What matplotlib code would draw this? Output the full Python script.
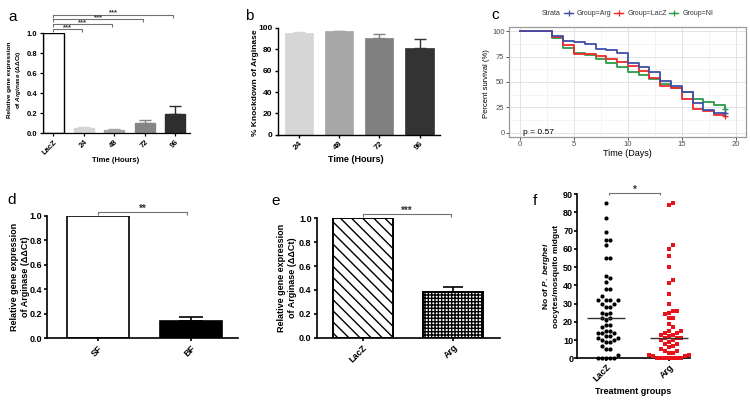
import numpy as np
import matplotlib
matplotlib.use("Agg")
import matplotlib.pyplot as plt
from matplotlib.transforms import Affine2D
from matplotlib.lines import Line2D

plt.rcParams.update({
    "font.family": ["Liberation Sans", "DejaVu Sans"],
    "font.weight": "bold",
    "axes.labelweight": "bold",
    "mathtext.fontset": "custom",
    "mathtext.it": "Liberation Sans:italic:bold",
    "mathtext.rm": "Liberation Sans:bold",
    "mathtext.bf": "Liberation Sans:bold",
    "hatch.linewidth": 1.0,
})

# ---------------- data ----------------
a_labels = ["LacZ", "24", "48", "72", "96"]
a_vals = [1.0, 0.055, 0.035, 0.10, 0.19]
a_errs = [0.0, 0.005, 0.006, 0.03, 0.08]
a_sig = ["***", "***", "***", "***"]

b_labels = ["24", "48", "72", "96"]
b_vals = [95.5, 97.0, 91.0, 81.5]
b_errs = [0.3, 0.2, 3.0, 8.0]

c_days = [0, 3, 4, 5, 6, 7, 8, 9, 10, 11, 12, 13, 14, 15, 16, 17, 18, 19]
c_arg = [100, 95.5, 90.5, 89, 87.5, 83, 82, 78.5, 68.5, 64.5, 60, 51, 46.5, 40.5, 29.5, 22, 19.5, 19.5]
c_lacz = [100, 94, 86, 78, 77.5, 75.5, 72.5, 69.5, 65.5, 61, 53.5, 46.5, 44, 33.5, 23.5, 21.5, 17, 16.5]
c_nl = [100, 93, 83.5, 79, 76.5, 73, 69, 64.5, 60, 57, 52.5, 48.5, 44.5, 40, 33, 30.5, 27.5, 23]
c_groups = ["Group=Arg", "Group=LacZ", "Group=NI"]
c_pval = "p = 0.57"

d_labels = ["SF", "BF"]
d_vals = [1.0, 0.14]
d_errs = [0.0, 0.03]
d_sig = "**"

e_labels = ["LacZ", "Arg"]
e_vals = [1.0, 0.38]
e_errs = [0.0, 0.045]
e_sig = "***"

f_groups = ["LacZ", "Arg"]
f_lacz = [85, 77, 69, 65, 65, 62, 55, 55, 45, 44, 42, 38, 38, 34, 32, 32, 32, 32, 30, 30,
          28, 28, 25, 25, 24, 22, 22, 21, 18, 18, 17, 15, 15, 14, 14, 14, 12, 12, 11, 11,
          10, 10, 9, 9, 7, 5, 5, 2, 0, 0, 0, 0, 0]
f_arg = [85, 84, 62, 60, 56, 50, 43, 41, 35, 30, 26, 26, 25, 24, 22, 22, 19, 17, 15, 15,
         14, 14, 13, 13, 12, 11, 11, 11, 10, 10, 9, 8, 8, 7, 6, 5, 4, 4, 3, 3,
         2, 2, 1, 1, 0, 0, 0, 0, 0, 0, 0]
f_sig = "*"

# ---------------- figure ----------------
W, H = 750, 413
fig = plt.figure(figsize=(7.5, 4.13), dpi=100)
PX = Affine2D().scale(1.0 / W, -1.0 / H).translate(0, 1) + fig.transFigure


def axpx(l, t, r, b):
    return fig.add_axes([l / W, 1 - b / H, (r - l) / W, (b - t) / H])


def prism(ax, fs, lw=1.0, tl=2.2, pad=2.0):
    for s in ["top", "right"]:
        ax.spines[s].set_visible(False)
    for s in ["left", "bottom"]:
        ax.spines[s].set_linewidth(lw)
    ax.tick_params(labelsize=fs, width=lw, length=tl, pad=pad)
    for lab in ax.get_xticklabels() + ax.get_yticklabels():
        lab.set_fontweight("bold")


def errbars(ax, xs, vals, errs, colors, lw, cap):
    for x, v, e, c in zip(xs, vals, errs, colors):
        ax.errorbar([x], [v], yerr=[[0], [e]], fmt="none", ecolor=c,
                    elinewidth=lw, capsize=cap, capthick=lw, zorder=1)


def bracket(ax, x1, x2, y, h, txt, fs, color="#707070"):
    ax.plot([x1, x1, x2, x2], [y - h, y, y, y - h], color=color, lw=0.8,
            clip_on=False, solid_capstyle="butt")
    ax.text((x1 + x2) / 2, y, txt, ha="center", va="baseline", fontsize=fs,
            color="#333333", clip_on=False)


def rot_labels(ax, labels, fs):
    ax.set_xticklabels(labels, rotation=45, ha="right", rotation_mode="anchor",
                       fontsize=fs, fontweight="bold")


def panel_label(x, y, s):
    fig.text(x, y, s, transform=PX, fontsize=11, fontweight="normal",
             ha="left", va="baseline")


def ylab(x, y, s, fs, weight="bold"):
    fig.text(x, y, s, transform=PX, fontsize=fs, fontweight=weight, rotation=90,
             ha="center", va="center", multialignment="center")


# ---- panel a ----
axa = axpx(43, 33, 190, 133)
xa = np.arange(len(a_labels))
a_colors = ["white", "#d4d4d4", "#a6a6a6", "#858585", "#2e2e2e"]
a_edges = ["black", "#d4d4d4", "#a6a6a6", "#858585", "#2e2e2e"]
axa.bar(xa, a_vals, width=0.66, color=a_colors, edgecolor=a_edges, linewidth=1.0, zorder=2)
errbars(axa, xa, a_vals, a_errs, a_edges, 1.0, 4.0)
axa.set_xlim(-0.345, 4.49)
axa.set_ylim(0, 1.0)
axa.set_yticks(np.arange(0, 1.01, 0.2))
axa.yaxis.set_major_formatter(matplotlib.ticker.FormatStrFormatter("%.1f"))
axa.set_xticks(xa)
prism(axa, 5.5, lw=0.9, tl=2.2, pad=2.0)
rot_labels(axa, a_labels, 5.5)
fig.text(116, 160, "Time (Hours)", transform=PX, fontsize=5.5, fontweight="bold",
         ha="center", va="center")
ylab(15, 80, "Relative gene expression\nof $\\mathit{Arginase}$ (\u0394\u0394Ct)", 4.6)
for i, (s, yb) in enumerate(zip(a_sig, [1.037, 1.087, 1.137, 1.183])):
    bracket(axa, 0.0, xa[i + 1] - 0.07, yb, 0.03, s, 5.5)

# ---- panel b ----
axb = axpx(277.7, 28, 440, 134.7)
xb = np.arange(len(b_labels))
b_colors = ["#d6d6d6", "#a7a7a7", "#808080", "#333333"]
axb.bar(xb, b_vals, width=0.7, color=b_colors, edgecolor=b_colors, linewidth=0.5, zorder=2)
errbars(axb, xb, b_vals, b_errs, b_colors, 1.0, 4.0)
axb.set_xlim(-0.53, 3.51)
axb.set_ylim(0, 100)
axb.set_yticks(np.arange(0, 101, 20))
axb.set_xticks(xb)
prism(axb, 6, lw=1.0, tl=2.2, pad=1.5)
rot_labels(axb, b_labels, 6)
fig.text(356, 159, "Time (Hours)", transform=PX, fontsize=6.5, fontweight="bold",
         ha="center", va="center")
ylab(255.7, 83, "% Knockdown of Arginase", 6)

# ---- panel c ----
axc = axpx(509, 27, 746, 137)
c_colors = ["#3f4fa6", "#ee2a2a", "#2b9a48"]
for vals, col in zip([c_nl, c_lacz, c_arg], [c_colors[2], c_colors[1], c_colors[0]]):
    axc.step(c_days, vals, where="post", color=col, lw=1.3, zorder=3)
    axc.plot([c_days[-1]], [vals[-1]], marker="+", color=col, ms=5, mew=1.0, zorder=4)
axc.set_xlim(-1.02, 20.95)
axc.set_ylim(-4.24, 104.24)
axc.set_xticks([0, 5, 10, 15, 20])
axc.set_yticks([0, 25, 50, 75, 100])
axc.set_xticks([2.5, 7.5, 12.5, 17.5], minor=True)
axc.set_yticks([12.5, 37.5, 62.5, 87.5], minor=True)
axc.grid(True, which="major", color="#e3e3e3", lw=0.7)
axc.grid(True, which="minor", color="#f0f0f0", lw=0.5)
axc.set_axisbelow(True)
for s in axc.spines.values():
    s.set_color("#9a9a9a")
    s.set_linewidth(0.9)
axc.tick_params(which="major", labelsize=5.5, length=2, width=0.7, pad=1.2,
                color="#555555", labelcolor="#4d4d4d")
axc.tick_params(which="minor", length=0)
for lab in axc.get_xticklabels() + axc.get_yticklabels():
    lab.set_fontweight("normal")
axc.text(0.28, 0, c_pval, fontsize=6, fontweight="normal", ha="left", va="center", zorder=5)
fig.text(627.5, 153, "Time (Days)", transform=PX, fontsize=6.5, fontweight="normal",
         ha="center", va="center")
ylab(486.5, 84, "Percent survival (%)", 5.5, weight="normal")
# legend (strata)
fig.text(541.7, 13.3, "Strata", transform=PX, fontsize=5, fontweight="normal",
         ha="left", va="center", color="#333333")
for (x0, xl), g, col in zip([(564, 577), (614, 628), (669, 683)], c_groups, c_colors):
    fig.add_artist(Line2D([x0, x0 + 9], [13.3, 13.3], transform=PX, color=col, lw=1.0))
    fig.add_artist(Line2D([x0 + 4.5], [13.3], transform=PX, color=col, marker="+",
                          ms=4.5, mew=0.9))
    fig.text(xl, 13.3, g, transform=PX, fontsize=5, fontweight="normal",
             ha="left", va="center", color="#333333")

# ---- panel d ----
axd = axpx(47.3, 215.7, 237.7, 338.3)
xd = np.arange(len(d_labels))
axd.bar(xd, d_vals, width=0.67, color=["white", "black"], edgecolor="black",
        linewidth=1.2, zorder=2)
errbars(axd, xd, d_vals, d_errs, ["black", "black"], 1.2, 8.5)
axd.set_xlim(-0.553, 1.505)
axd.set_ylim(0, 1.0)
axd.set_yticks(np.arange(0, 1.01, 0.2))
axd.yaxis.set_major_formatter(matplotlib.ticker.FormatStrFormatter("%.1f"))
axd.set_xticks(xd)
prism(axd, 6.5, lw=1.2, tl=2.2, pad=1.5)
rot_labels(axd, d_labels, 6.5)
ylab(20, 277, "Relative gene expression\nof Arginase (\u0394\u0394Ct)", 6.5)
bracket(axd, 0.0, 0.954, 1.033, 0.027, d_sig, 7)

# ---- panel e ----
axe = axpx(316.7, 218.3, 500, 337.7)
xe = np.arange(len(e_labels))
bars = axe.bar(xe, e_vals, width=0.67, color="white", edgecolor="black",
               linewidth=1.4, zorder=2)
bars[0].set_hatch("\\" * 3)
bars[1].set_hatch("+" * 5)
errbars(axe, xe, e_vals, e_errs, ["black", "black"], 1.2, 7.5)
axe.set_xlim(-0.51, 1.52)
axe.set_ylim(0, 1.0)
axe.set_yticks(np.arange(0, 1.01, 0.2))
axe.yaxis.set_major_formatter(matplotlib.ticker.FormatStrFormatter("%.1f"))
axe.set_xticks(xe)
prism(axe, 6.5, lw=1.2, tl=2.2, pad=1.5)
rot_labels(axe, e_labels, 6.5)
ylab(287, 277.5, "Relative gene expression\nof Arginase (\u0394\u0394Ct)", 6.5)
bracket(axe, 0.0, 0.975, 1.036, 0.025, e_sig, 7)

# ---- panel f ----
axf = axpx(577.3, 194, 690, 358.3)
px_per_x = 63.0
px_per_y = 1.825


def swarm(vals, d=4.0):
    # greedy beeswarm: each point takes the nearest free slot to the centre line
    order = np.argsort(vals, kind="stable")
    placed = []
    offs = np.zeros(len(vals))
    cands = [0.0]
    for i in range(1, 14):
        cands += [i * d, -i * d]
    for idx in order:
        y = vals[idx] * px_per_y
        for c in cands:
            if all((c - px) ** 2 + (y - py) ** 2 >= d * d for px, py in placed):
                break
        placed.append((c, y))
        offs[idx] = c / px_per_x
    return offs


for gi, (vals, col, mk, ms) in enumerate([(f_lacz, "black", "o", 3.0),
                                          (f_arg, "#e8141c", "s", 2.8)]):
    v = np.array(vals, dtype=float)
    xs = gi + swarm(v)
    axf.plot(xs, v, linestyle="none", marker=mk, color=col, ms=ms, mew=0,
             clip_on=False, zorder=3)
    med = np.median(v)
    axf.hlines(med, gi - 0.3, gi + 0.3, color="#333333", lw=1.0, zorder=4, clip_on=False)
axf.set_xlim(-0.456, 1.333)
axf.set_ylim(0, 90)
axf.set_yticks(np.arange(0, 91, 10))
axf.set_xticks([0, 1])
prism(axf, 6.5, lw=1.2, tl=2.0, pad=1.0)
rot_labels(axf, f_groups, 6.5)
fig.text(633.5, 391.7, "Treatment groups", transform=PX, fontsize=6.5, fontweight="bold",
         ha="center", va="center")
ylab(550, 276, "No of $\\mathit{P.\\ berghei}$\noocytes/mosquito midgut", 6.0)
bracket(axf, 0.048, 0.857, 90.7, 1.1, f_sig, 7)

# ---- panel labels ----
panel_label(8, 20.7, "a")
panel_label(245, 20, "b")
panel_label(491, 19.3, "c")
panel_label(7.3, 204, "d")
panel_label(271.7, 205, "e")
panel_label(533, 205, "f")

fig.savefig("out.png", dpi=100)
